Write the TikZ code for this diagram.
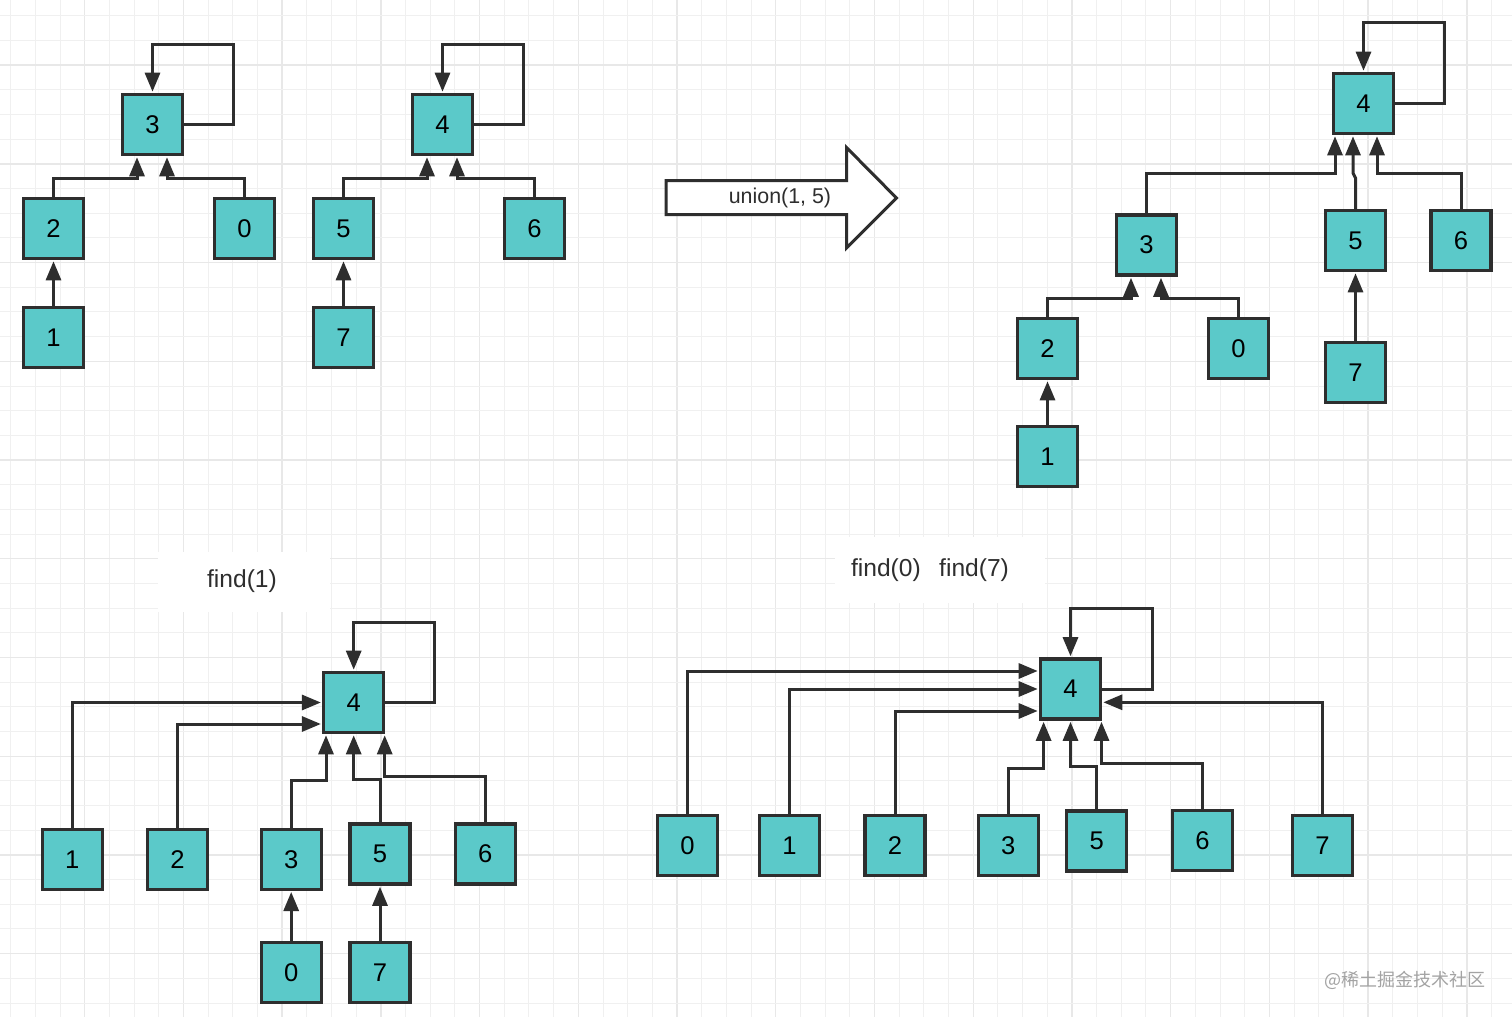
\documentclass[tikz,border=0pt]{standalone}
\usepackage{fontspec}
\setmainfont{Liberation Sans}
\newfontfamily\cjk{Noto Sans CJK SC}
\usetikzlibrary{arrows.meta}
\definecolor{boxfill}{HTML}{5BC9C9}
\definecolor{ink}{HTML}{2E2E2E}
\definecolor{gridminor}{HTML}{F0F0F0}
\definecolor{gridmajor}{HTML}{E8E8E8}
\definecolor{wmark}{HTML}{A3A3A3}
\begin{document}
\begin{tikzpicture}[x=0.5pt,y=-0.5pt,
  ubox/.style={draw=ink, fill=boxfill, line width=1.6pt, minimum size=30pt, inner sep=0pt,
    font=\fontsize{12.8}{14}\selectfont, text=black},
  link/.style={draw=ink, line width=1.5pt, shorten >=0.6pt, -{Triangle[length=9.5pt,width=7.5pt]}},
  lbl/.style={font=\fontsize{12.3}{14}\selectfont, text=ink, inner sep=0pt},
  gmin/.style={draw=gridminor, line width=0.5pt},
  gmaj/.style={draw=gridmajor, line width=0.7pt}]
\useasboundingbox (0,0) rectangle (1512,1017);
\fill[white] (0,0) rectangle (1512,1017);
% grid
\foreach \k in {0,...,61}{
  \pgfmathsetmacro\xx{10.7+24.68*\k}
  \pgfmathtruncatemacro\m{mod(\k,4)}
  \ifnum\m=3 \draw[gmaj] (\xx,0) -- (\xx,1017); \else \draw[gmin] (\xx,0) -- (\xx,1017); \fi
}
\foreach \k in {0,...,41}{
  \pgfmathsetmacro\yy{15.8+24.68*\k}
  \pgfmathtruncatemacro\m{mod(\k,4)}
  \ifnum\m=2 \draw[gmaj] (0,\yy) -- (1512,\yy); \else \draw[gmin] (0,\yy) -- (1512,\yy); \fi
}
% white patches behind labels
\fill[white] (158,552) rectangle (330,612);
\fill[white] (835,537) rectangle (1045,603);

% ---------- tree A (root 3) ----------
\node[ubox] (a3) at (152.5,124.5) {3};
\node[ubox] (a2) at (53.5,228.5) {2};
\node[ubox] (a0) at (244.5,228.5) {0};
\node[ubox] (a1) at (53.5,337.5) {1};
\draw[link] (a3.east) -| (233,44) -| (a3.north);
\draw[link] (a2.north) -- (a2.north |- 0,178) -| ([xshift=-7.75pt]a3.south);
\draw[link] (a0.north) -- (a0.north |- 0,178) -| ([xshift=7.25pt]a3.south);
\draw[link] (a1.north) -- (a2.south);

% ---------- tree B (root 4) ----------
\node[ubox] (b4) at (442.5,124.5) {4};
\node[ubox] (b5) at (343.5,228.5) {5};
\node[ubox] (b6) at (534.5,228.5) {6};
\node[ubox] (b7) at (343.5,337.5) {7};
\draw[link] (b4.east) -| (523,44) -| (b4.north);
\draw[link] (b5.north) -- (b5.north |- 0,178) -| ([xshift=-7.75pt]b4.south);
\draw[link] (b6.north) -- (b6.north |- 0,178) -| ([xshift=7.25pt]b4.south);
\draw[link] (b7.north) -- (b5.south);

% ---------- union arrow ----------
\draw[draw=ink, fill=white, line width=1.5pt, line join=miter]
  (666,180.5) -- (846.5,180.5) -- (846.5,147.5) -- (896.5,198) -- (846.5,248) -- (846.5,214.5) -- (666,214.5) -- cycle;
\node[lbl, font=\fontsize{10.7}{12}\selectfont] (ulbl) at (780,198) {union(1, 5)};

% ---------- tree C (after union) ----------
\node[ubox] (c4) at (1363.5,103.5) {4};
\node[ubox] (c3) at (1146.5,245) {3};
\node[ubox] (c5) at (1355.5,240.5) {5};
\node[ubox] (c6) at (1461,240.5) {6};
\node[ubox] (c2) at (1047.5,348.5) {2};
\node[ubox] (c0) at (1238.5,348.5) {0};
\node[ubox] (c1) at (1047.5,456.5) {1};
\node[ubox] (c7) at (1355.5,372.5) {7};
\draw[link] (c4.east) -| (1444,22) -| (c4.north);
\draw[link] (c3.north) -- (c3.north |- 0,173) -| ([xshift=-14.25pt]c4.south);
\draw[link] (c5.north) -- (c5.north |- 0,178) -- ([xshift=-5.25pt]c4.south |- 0,173) -- ([xshift=-5.25pt]c4.south);
\draw[link] (c6.north) -- (c6.north |- 0,173) -| ([xshift=6.75pt]c4.south);
\draw[link] (c2.north) -- (c2.north |- 0,298) -| ([xshift=-7.75pt]c3.south);
\draw[link] (c0.north) -- (c0.north |- 0,298) -| ([xshift=7.25pt]c3.south);
\draw[link] (c1.north) -- (c2.south);
\draw[link] (c7.north) -- (c5.south);

% ---------- tree D : find(1) ----------
\node[lbl] (findone) at (242,581) {find(1)};
\node[ubox] (d4) at (353.7,702.5) {4};
\node[ubox] (d1) at (72.3,859.2) {1};
\node[ubox] (d2) at (177.5,859.2) {2};
\node[ubox] (d3) at (291.2,859.2) {3};
\node[ubox] (d5) at (380,854) {5};
\node[ubox] (d6) at (485.3,854) {6};
\node[ubox] (d0) at (291.2,972.5) {0};
\node[ubox] (d7) at (380,972.5) {7};
\draw[link] (d4.east) -| (434,622) -| (d4.north);
\draw[link] (d1.north) |- (d4.west);
\draw[link] (d2.north) |- ([yshift=-10.75pt]d4.west);
\draw[link] (d3.north) -- (d3.north |- 0,780) -| ([xshift=-13.85pt]d4.south);
\draw[link] (d5.north) -- (d5.north |- 0,779) -| (d4.south);
\draw[link] (d6.north) -- (d6.north |- 0,776) -| ([xshift=15.5pt]d4.south);
\draw[link] (d0.north) -- (d3.south);
\draw[link] (d7.north) -- (d5.south);

% ---------- tree E : find(0) find(7) ----------
\node[lbl] (findtwo) at (930,570) {find(0)\hspace{0.75em}find(7)};
\node[ubox] (e4) at (1070.5,689) {4};
\node[ubox] (e0) at (687.5,845.8) {0};
\node[ubox] (e1) at (789.5,845.8) {1};
\node[ubox] (e2) at (895,845.8) {2};
\node[ubox] (e3) at (1008.2,845.8) {3};
\node[ubox] (e5) at (1096.8,841) {5};
\node[ubox] (e6) at (1202.5,840.7) {6};
\node[ubox] (e7) at (1322.5,845.7) {7};
\draw[link] (e4.east) -| (1152.5,608) -| (e4.north);
\draw[link] (e0.north) |- ([yshift=9pt]e4.west);
\draw[link] (e1.north) |- (e4.west);
\draw[link] (e2.north) |- ([yshift=-11pt]e4.west);
\draw[link] (e3.north) -- (e3.north |- 0,768) -| ([xshift=-13.45pt]e4.south);
\draw[link] (e5.north) -- (e5.north |- 0,766) -| (e4.south);
\draw[link] (e6.north) -- (e6.north |- 0,763) -| ([xshift=15.5pt]e4.south);
\draw[link] (e7.north) |- ([yshift=-6.65pt]e4.east);

% watermark
\node[text=wmark, font=\cjk\fontsize{9}{11}\selectfont, inner sep=0pt] (wm) at (1405,980) {@稀土掘金技术社区};
\end{tikzpicture}
\end{document}
